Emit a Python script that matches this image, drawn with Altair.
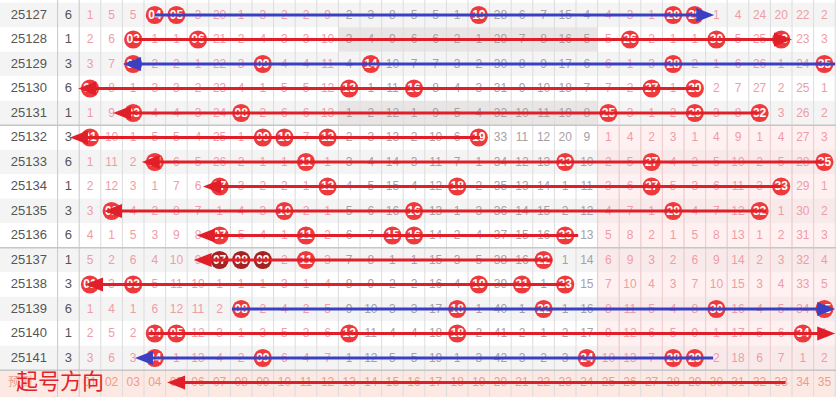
import altair as alt
import pandas as pd

periods = [25127, 25128, 25129, 25130, 25131, 25132, 25133, 25134, 25135,
           25136, 25137, 25138, 25139, 25140, 25141]
counts = [6, 1, 3, 6, 1, 3, 6, 1, 3, 6, 1, 3, 6, 1, 3]

# omission values per number 01..35 ; 0 marks a drawn number
omissions = [
    [1, 5, 5, 0, 0, 3, 20, 1, 3, 2, 2, 9, 2, 3, 8, 5, 5, 1, 0, 28, 6, 7, 15, 4, 4, 3, 1, 0, 0, 1, 4, 24, 20, 22, 2],
    [2, 6, 0, 1, 1, 0, 21, 2, 4, 3, 3, 10, 3, 4, 9, 6, 6, 2, 1, 29, 7, 8, 16, 5, 5, 0, 2, 1, 1, 0, 5, 25, 0, 23, 3],
    [3, 7, 0, 2, 2, 1, 22, 3, 0, 4, 4, 11, 4, 0, 10, 7, 7, 3, 2, 30, 8, 9, 17, 6, 6, 1, 3, 0, 2, 1, 6, 26, 1, 24, 0],
    [0, 8, 1, 3, 3, 2, 23, 4, 1, 5, 5, 12, 0, 1, 11, 0, 8, 4, 3, 31, 9, 10, 18, 7, 7, 2, 0, 1, 0, 2, 7, 27, 2, 25, 1],
    [1, 9, 0, 4, 4, 3, 24, 0, 2, 6, 6, 13, 1, 2, 12, 1, 9, 5, 4, 32, 10, 11, 19, 8, 0, 3, 1, 2, 0, 3, 8, 0, 3, 26, 2],
    [0, 10, 1, 5, 5, 4, 25, 1, 0, 0, 7, 0, 2, 3, 13, 2, 10, 6, 0, 33, 11, 12, 20, 9, 1, 4, 2, 3, 1, 4, 9, 1, 4, 27, 3],
    [1, 11, 2, 0, 6, 5, 26, 2, 1, 1, 0, 1, 3, 4, 14, 3, 11, 7, 1, 34, 12, 13, 0, 10, 2, 5, 0, 4, 2, 5, 10, 2, 5, 28, 0],
    [2, 12, 3, 1, 7, 6, 0, 3, 2, 2, 1, 0, 4, 5, 15, 4, 12, 0, 2, 35, 13, 14, 1, 11, 3, 6, 0, 5, 3, 6, 11, 3, 0, 29, 1],
    [3, 0, 4, 2, 8, 7, 1, 4, 3, 0, 2, 1, 5, 6, 16, 0, 13, 1, 3, 36, 14, 15, 2, 12, 4, 7, 1, 0, 4, 7, 12, 0, 1, 30, 2],
    [4, 1, 5, 3, 9, 8, 0, 5, 4, 1, 0, 2, 6, 7, 0, 0, 14, 2, 4, 37, 15, 16, 0, 13, 5, 8, 2, 1, 5, 8, 13, 1, 2, 31, 3],
    [5, 2, 6, 4, 10, 9, 0, 0, 0, 2, 0, 3, 7, 8, 1, 1, 15, 3, 5, 38, 16, 0, 1, 14, 6, 9, 3, 2, 6, 9, 14, 2, 3, 32, 4],
    [0, 3, 0, 5, 11, 10, 1, 1, 1, 3, 1, 4, 8, 9, 2, 2, 16, 4, 0, 39, 0, 1, 0, 15, 7, 10, 4, 3, 7, 10, 15, 3, 4, 33, 5],
    [1, 4, 1, 6, 12, 11, 2, 0, 2, 4, 2, 5, 9, 10, 3, 3, 17, 0, 1, 40, 1, 0, 1, 16, 8, 11, 5, 4, 8, 0, 16, 4, 5, 34, 0],
    [2, 5, 2, 0, 0, 12, 3, 1, 3, 5, 3, 6, 0, 11, 4, 4, 18, 0, 2, 41, 2, 1, 2, 17, 9, 12, 6, 5, 9, 1, 17, 5, 6, 0, 1],
    [3, 6, 3, 0, 1, 13, 4, 2, 0, 6, 4, 7, 1, 12, 5, 5, 19, 1, 3, 42, 3, 2, 3, 0, 10, 13, 7, 0, 0, 2, 18, 6, 7, 1, 2],
]

dark_period = [25137, 25137, 25137]
dark_number = [7, 8, 9]

forecast_labels = ["01", "02", "03", "04", "05", "06", "07", "08", "09", "10",
                   "11", "12", "13", "14", "15", "16", "17", "18", "19", "20",
                   "21", "22", "23", "24", "25", "26", "27", "28", "29", "30",
                   "31", "32", "33", "34", "35"]
forecast_title = "预测"
direction_title = "起号方向"

# arrows: row index (15 = forecast row), start column, arrow tip column, colour
arrow_row = list(range(16))
arrow_start = [4.0, 3.0, 35.5, 29.2, 32.0, 19.05, 35.0, 33.0, 32.3, 23.6, 22.4, 23.0, 7.57, 3.7, 29.85, 33.2]
arrow_tip = [29.9, 33.5, 2.53, 0.45, 2.07, 0.07, 3.4, 6.23, 1.65, 5.95, 5.8, 0.77, 35.5, 35.5, 3.08, 4.57]
arrow_kind = ["blue", "red", "blue", "red", "red", "red", "red", "red", "red", "red",
              "red", "red", "blue", "red", "blue", "red"]

# ---------------- layout helpers ----------------
W, H = 836, 397
PXU = 21.6                       # pixels per column
X0, X1 = -3.1667, 35.537
Y0, Y1 = -0.612, 15.592
RED, BLUE = "#e01f29", "#3b40c2"
FONT = "Liberation Sans, Arial, sans-serif"

xs = alt.Scale(domain=[X0, X1], nice=False, zero=False)
ys = alt.Scale(domain=[Y0, Y1], nice=False, zero=False, reverse=True)

nrows = len(periods)

# backgrounds
bg = []
for i in range(nrows):
    bg.append(dict(x=X0, x2=X1, y=i - 0.5, y2=i + 0.5, fill="#f4f4f4" if i % 2 == 0 else "#ffffff", op=1.0))
bg.append(dict(x=X0, x2=X1, y=nrows - 0.5, y2=Y1, fill="#fce9e4", op=1.0))
for i in (1, 4):
    bg.append(dict(x=12.5, x2=24.5, y=i - 0.5, y2=i + 0.5, fill="#e9e5e5", op=1.0))
bg.append(dict(x=24.5, x2=35.5 + 0.04, y=4.5, y2=14.5, fill="#ffd9d9", op=0.38))
bg_df = pd.DataFrame(bg)

vgrid = []
for n in range(0, 36):
    vgrid.append(dict(x=n + 0.5, y=Y0, y2=Y1, c="#dcdcdc", w=1))
vgrid.append(dict(x=-0.5, y=Y0, y2=Y1, c="#c8c8c8", w=1))
vgrid[0]["c"] = "#c8c8c8"
for n in range(24, 35):
    vgrid.append(dict(x=n + 0.5, y=4.5, y2=14.5, c="#f4cccc", w=1))
vg_df = pd.DataFrame(vgrid)

hg_df = pd.DataFrame([dict(y=v, x=X0, x2=X1) for v in (4.5, 9.5, 14.5)])

cells = []
for i, row in enumerate(omissions):
    for c, v in enumerate(row, start=1):
        cells.append(dict(i=i, col=c, v=v, hit=(v == 0),
                          lab=f"{c:02d}" if v == 0 else str(v),
                          tc="#a6a0a8" if 13 <= c <= 24 else "#ef9ca6",
                          cc="#a32222" if (periods[i], c) in set(zip(dark_period, dark_number)) else "#ef3a3d"))
cells_df = pd.DataFrame(cells)
miss_df = cells_df[~cells_df.hit]
hit_df = cells_df[cells_df.hit]

left_df = pd.DataFrame({
    "i": list(range(nrows)) * 2,
    "x": [-1.83] * nrows + [0.0] * nrows,
    "lab": [str(p) for p in periods] + [str(c) for c in counts],
})

fc_df = pd.DataFrame({"i": [nrows] * len(forecast_labels),
                      "col": list(range(1, len(forecast_labels) + 1)),
                      "lab": forecast_labels})

HEAD = 9.0 / PXU
arr = []
for r, s, t, k in zip(arrow_row, arrow_start, arrow_tip, arrow_kind):
    d = 1 if t > s else -1
    arr.append(dict(i=r, s=s, hc=t - d * HEAD, dirn="R" if d > 0 else "L",
                    c=RED if k == "red" else BLUE))
arr_df = pd.DataFrame(arr)

PATH_L = "M-1,0L1,-0.78L1,0.78Z"
PATH_R = "M1,0L-1,-0.78L-1,0.78Z"

# ---------------- layers ----------------
l_bg = alt.Chart(bg_df).mark_rect(strokeWidth=0).encode(
    x=alt.X("x:Q", scale=xs, axis=None), x2="x2:Q",
    y=alt.Y("y:Q", scale=ys, axis=None), y2="y2:Q",
    color=alt.Color("fill:N", scale=None), opacity=alt.Opacity("op:Q", scale=None))

l_vg = alt.Chart(vg_df).mark_rule(strokeWidth=1).encode(
    x=alt.X("x:Q", scale=xs, axis=None),
    y=alt.Y("y:Q", scale=ys, axis=None), y2="y2:Q",
    color=alt.Color("c:N", scale=None))

l_hg = alt.Chart(hg_df).mark_rule(strokeWidth=1.5, color="#c6c6c6").encode(
    x=alt.X("x:Q", scale=xs, axis=None), x2="x2:Q",
    y=alt.Y("y:Q", scale=ys, axis=None))

l_left = alt.Chart(left_df).mark_text(fontSize=13, font=FONT, color="#555555",
                                      baseline="middle", align="center").encode(
    x=alt.X("x:Q", scale=xs, axis=None), y=alt.Y("i:Q", scale=ys, axis=None), text="lab:N")

l_miss = alt.Chart(miss_df).mark_text(fontSize=12, font=FONT, baseline="middle", align="center").encode(
    x=alt.X("col:Q", scale=xs, axis=None), y=alt.Y("i:Q", scale=ys, axis=None),
    text="lab:N", color=alt.Color("tc:N", scale=None))

l_circ = alt.Chart(hit_df).mark_circle(size=330, opacity=1).encode(
    x=alt.X("col:Q", scale=xs, axis=None), y=alt.Y("i:Q", scale=ys, axis=None),
    color=alt.Color("cc:N", scale=None))

l_hitlab = alt.Chart(hit_df).mark_text(fontSize=12, font=FONT, fontWeight="bold", color="white",
                                       baseline="middle", align="center").encode(
    x=alt.X("col:Q", scale=xs, axis=None), y=alt.Y("i:Q", scale=ys, axis=None), text="lab:N")

l_fc = alt.Chart(fc_df).mark_text(fontSize=12, font=FONT, color="#ee9c8c",
                                  baseline="middle", align="center").encode(
    x=alt.X("col:Q", scale=xs, axis=None), y=alt.Y("i:Q", scale=ys, axis=None), text="lab:N")

l_fct = alt.Chart(pd.DataFrame({"x": [-2.24], "i": [nrows], "lab": [forecast_title]})).mark_text(
    fontSize=12, font="Noto Sans CJK SC", color="#ee9c8c", baseline="middle", align="center").encode(
    x=alt.X("x:Q", scale=xs, axis=None), y=alt.Y("i:Q", scale=ys, axis=None), text="lab:N")

l_rule = alt.Chart(arr_df).mark_rule(strokeWidth=3).encode(
    x=alt.X("s:Q", scale=xs, axis=None), x2="hc:Q",
    y=alt.Y("i:Q", scale=ys, axis=None), color=alt.Color("c:N", scale=None))

l_headL = alt.Chart(arr_df).transform_filter(alt.datum.dirn == "L").mark_point(
    shape=PATH_L, filled=True, size=324, opacity=1, strokeWidth=0).encode(
    x=alt.X("hc:Q", scale=xs, axis=None), y=alt.Y("i:Q", scale=ys, axis=None),
    color=alt.Color("c:N", scale=None))

l_headR = alt.Chart(arr_df).transform_filter(alt.datum.dirn == "R").mark_point(
    shape=PATH_R, filled=True, size=324, opacity=1, strokeWidth=0).encode(
    x=alt.X("hc:Q", scale=xs, axis=None), y=alt.Y("i:Q", scale=ys, axis=None),
    color=alt.Color("c:N", scale=None))

l_dir = alt.Chart(pd.DataFrame({"x": [-0.39], "i": [nrows], "lab": [direction_title]})).mark_text(
    fontSize=22, font="Noto Sans CJK SC", color="#e0242c", baseline="middle", align="center").encode(
    x=alt.X("x:Q", scale=xs, axis=None), y=alt.Y("i:Q", scale=ys, axis=None), text="lab:N")

chart = alt.layer(l_bg, l_vg, l_hg, l_left, l_miss, l_fc, l_fct, l_circ, l_hitlab,
                  l_rule, l_headL, l_headR, l_dir).properties(
    width=W, height=H, padding=0, autosize=alt.AutoSizeParams(type="none")
).configure_view(strokeWidth=0)

chart.save("out.html", embed_options={"renderer": "svg", "actions": False})
